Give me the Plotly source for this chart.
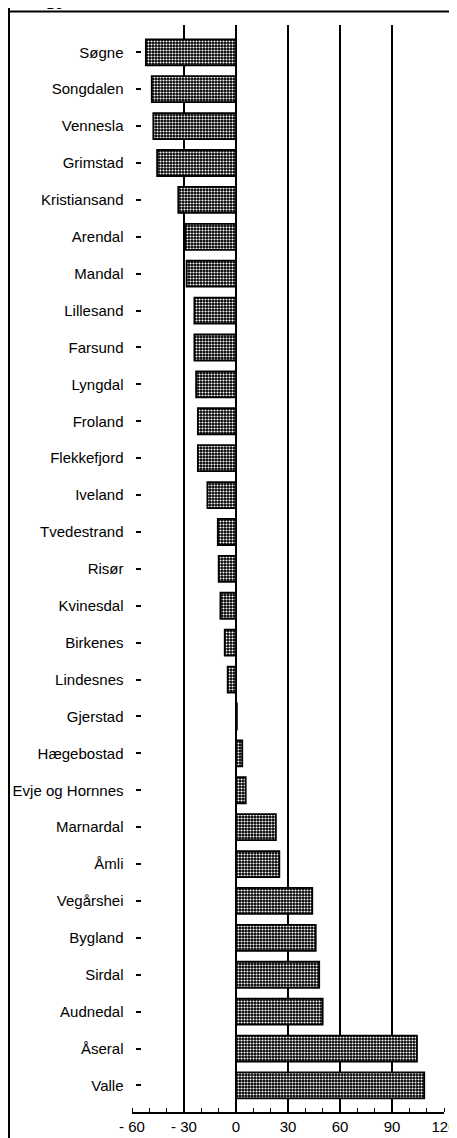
import plotly.graph_objects as go

municipalities = ["Søgne", "Songdalen", "Vennesla", "Grimstad", "Kristiansand", "Arendal",
                  "Mandal", "Lillesand", "Farsund", "Lyngdal", "Froland", "Flekkefjord",
                  "Iveland", "Tvedestrand", "Risør", "Kvinesdal", "Birkenes", "Lindesnes",
                  "Gjerstad", "Hægebostad", "Evje og Hornnes", "Marnardal", "Åmli",
                  "Vegårshei", "Bygland", "Sirdal", "Audnedal", "Åseral", "Valle"]
values = [-52, -48.6, -47.7, -45.5, -33.3, -29.3,
          -28.5, -24, -24, -23, -22, -22,
          -16.5, -10.5, -10, -9, -6.5, -4.8,
          0.5, 3.6, 5.6, 23, 25,
          44, 46, 48, 50, 104.4, 108.6]

tick_vals = [-60, -30, 0, 30, 60, 90, 120]
tick_text = ["- 60", "- 30", "0", "30", "60", "90", "120"]
grid_vals = [-30, 0, 30, 60, 90]

OFF = 8  # page body margin
W, H = 457, 1138
FONT = "Liberation Sans, Arial, sans-serif"

x0_px, x1_px = 132 - OFF, 444 - OFF
top_px, bot_px = 25 - OFF, 1112 - OFF

fig = go.Figure()
fig.add_trace(go.Bar(
    y=municipalities, x=values, orientation="h",
    marker=dict(color="black",
                line=dict(color="black", width=1.8),
                pattern=dict(shape=".", fgcolor="white", bgcolor="black",
                             size=3, solidity=0.4, fillmode="replace")),
    xaxis="x", yaxis="y", showlegend=False, hoverinfo="skip",
))
fig.add_trace(go.Scatter(x=[0], y=[municipalities[0]], xaxis="x2", yaxis="y",
                         mode="markers", marker=dict(opacity=0), showlegend=False,
                         hoverinfo="skip"))

dom_x = [x0_px / W, x1_px / W]
dom_y = [1 - bot_px / H, 1 - top_px / H]

fig.update_layout(
    width=W, height=H, autosize=False,
    margin=dict(l=0, r=0, t=0, b=0, pad=0),
    paper_bgcolor="white", plot_bgcolor="rgba(0,0,0,0)",
    bargap=0.295,
    font=dict(family=FONT, size=15, color="black"),
    xaxis=dict(domain=dom_x, range=[-60, 120], anchor="y", automargin=False,
               tickmode="array", tickvals=grid_vals, showticklabels=False,
               ticks="", showgrid=True, gridcolor="black", gridwidth=1.5,
               zeroline=False, showline=False),
    xaxis2=dict(domain=dom_x, range=[-60, 120], overlaying="x", anchor="y", side="bottom",
                automargin=False, ticklabeloverflow="allow",
                tickmode="array", tickvals=tick_vals, ticktext=tick_text,
                ticks="", showgrid=False, zeroline=False,
                showline=True, linecolor="black", linewidth=1.5,
                tickfont=dict(family=FONT, size=15, color="black"),
                minor=dict(tickmode="linear", tick0=0, dtick=10, ticks="inside",
                           ticklen=4, tickwidth=1.2, tickcolor="black", showgrid=False)),
    yaxis=dict(domain=dom_y, type="category", categoryorder="array", automargin=False,
               categoryarray=municipalities, range=[28.72, -0.74],
               anchor="free", position=(140.5 - OFF) / W,
               ticks="outside", ticklen=5, tickwidth=1.5, tickcolor="black",
               ticklabelstandoff=9, showline=False, showgrid=False, zeroline=False,
               tickfont=dict(family=FONT, size=15, color="black")),
    shapes=[
        dict(type="line", xref="paper", yref="paper", x0=1 / W, x1=1 / W, y0=0, y1=1,
             line=dict(color="black", width=2)),
        dict(type="line", xref="paper", yref="paper", x0=0, x1=(455 - OFF) / W,
             y0=1 - (11.5 - OFF) / H, y1=1 - (11.5 - OFF) / H,
             line=dict(color="black", width=2)),
        dict(type="line", xref="paper", yref="paper", x0=(455 - OFF) / W, x1=(455 - OFF) / W,
             y0=1 - (23 - OFF) / H, y1=1, line=dict(color="black", width=2)),
        dict(type="line", xref="paper", yref="paper", x0=(455 - OFF) / W, x1=(455 - OFF) / W,
             y0=0.6, y1=1 - (23 - OFF) / H, line=dict(color="#d8d8d8", width=1)),
    ],
    annotations=[
        dict(text="<b>gj</b>", xref="paper", yref="paper", x=(42 - OFF) / W, y=1 - 2.5 / H,
             xanchor="left", yanchor="bottom", showarrow=False,
             font=dict(family="Liberation Sans, Arial, sans-serif", size=22, color="black")),
    ],
)

fig.write_html("out.html")
